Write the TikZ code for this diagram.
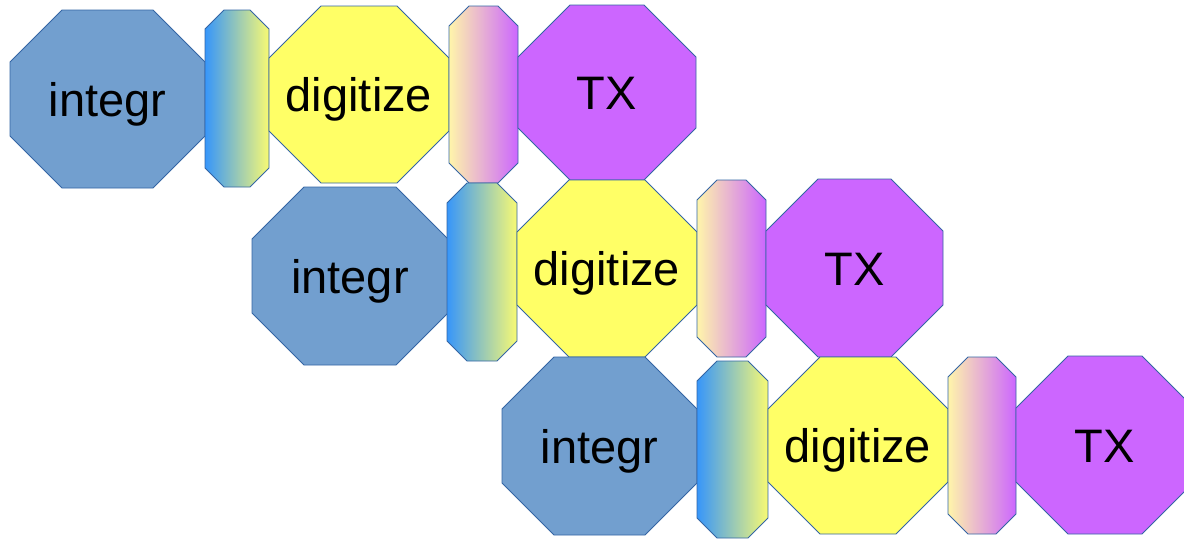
\documentclass[tikz,border=0pt]{standalone}
\usepackage{fontspec}
\setmainfont{Liberation Sans}
\definecolor{bordc}{HTML}{3465A4}
\definecolor{intc}{HTML}{729FCF}
\definecolor{digc}{HTML}{FFFF66}
\definecolor{txc}{HTML}{CC66FF}
\definecolor{gblue}{RGB}{55,150,250}
\definecolor{gyel}{RGB}{248,250,115}
\definecolor{gpale}{RGB}{255,245,170}
\definecolor{gpurp}{RGB}{204,102,255}
\tikzset{
  shapeline/.style={draw=bordc, line width=0.8pt, line join=miter},
  intstyle/.style={shapeline, fill=intc},
  digstyle/.style={shapeline, fill=digc},
  txstyle/.style={shapeline, fill=txc},
  linkA/.style={shapeline, left color=gblue, right color=gyel},
  linkB/.style={shapeline, left color=gpale, right color=gpurp},
  txt/.style={inner sep=0pt, text height=34pt, text depth=0pt,
    font=\fontsize{47}{56}\selectfont, text=black}
}
% #1 name, #2 x1, #3 y1, #4 x2, #5 y2, #6 cut, #7 style, #8 text
\newcommand\octbox[8]{%
  \path[#7] (#2+#6,#3) -- (#4-#6,#3) -- (#4,#3+#6) -- (#4,#5-#6)
    -- (#4-#6,#5) -- (#2+#6,#5) -- (#2,#5-#6) -- (#2,#3+#6) -- cycle;
  \node[txt] (#1) at ({(#2+#4)/2},{(#3+#5)/2}) {#8};
}
\newcommand\linkbox[7]{%
  \path[#7] (#2+#6,#3) -- (#4-#6,#3) -- (#4,#3+#6) -- (#4,#5-#6)
    -- (#4-#6,#5) -- (#2+#6,#5) -- (#2,#5-#6) -- (#2,#3+#6) -- cycle;
  \coordinate (#1) at ({(#2+#4)/2},{(#3+#5)/2});
}
\begin{document}
\begin{tikzpicture}[x=1pt,y=-1pt]
\useasboundingbox (0,0) rectangle (1184,541);
% row 1
\octbox{int1}{10}{10}{205}{188}{52}{intstyle}{integr}
\linkbox{la1}{205}{10}{269}{187}{19}{linkA}
\octbox{dig1}{269}{6}{449}{183}{52}{digstyle}{digitize}
\linkbox{lb1}{449}{6}{518}{183}{20}{linkB}
\octbox{tx1}{518}{5}{696}{180}{52}{txstyle}{TX}
% row 2
\octbox{int2}{252}{187}{448}{365}{52}{intstyle}{integr}
\linkbox{la2}{447}{183}{517}{361}{20}{linkA}
\octbox{dig2}{517}{180}{697}{357}{52}{digstyle}{digitize}
\linkbox{lb2}{697}{180}{766}{357}{20}{linkB}
\octbox{tx2}{766}{179}{943}{357}{52}{txstyle}{TX}
% row 3
\octbox{int3}{502}{357}{697}{535}{52}{intstyle}{integr}
\linkbox{la3}{697}{361}{768}{538}{20}{linkA}
\octbox{dig3}{768}{357}{948}{534}{52}{digstyle}{digitize}
\linkbox{lb3}{948}{357}{1016}{534}{20}{linkB}
\octbox{tx3}{1016}{356}{1194}{534}{52}{txstyle}{TX}
\end{tikzpicture}
\end{document}
